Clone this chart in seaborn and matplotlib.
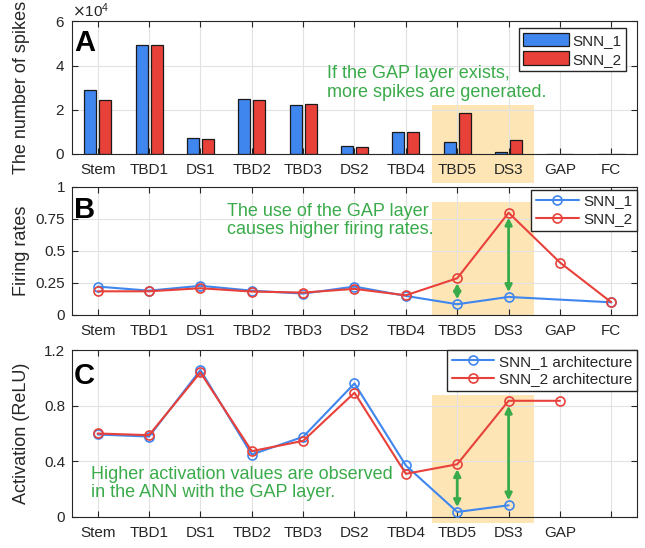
import numpy as np
import pandas as pd
import matplotlib
matplotlib.use("Agg")
import matplotlib.pyplot as plt
import seaborn as sns
from matplotlib.patches import Rectangle
from matplotlib.ticker import ScalarFormatter

# data
layers = ["Stem", "TBD1", "DS1", "TBD2", "TBD3", "DS2", "TBD4", "TBD5", "DS3", "GAP", "FC"]
spikes_snn1 = [29100, 49500, 7200, 24900, 22000, 3500, 9800, 5400, 900, 150, 200]
spikes_snn2 = [24600, 49200, 6800, 24400, 22800, 3300, 10000, 18700, 6300, 200, 200]

# firing rates (SNN_1 has no GAP layer)
fr_layers_1 = ["Stem", "TBD1", "DS1", "TBD2", "TBD3", "DS2", "TBD4", "TBD5", "DS3", "FC"]
fr_snn1 = [0.222, 0.19, 0.228, 0.19, 0.167, 0.222, 0.149, 0.084, 0.141, 0.099]
fr_layers_2 = layers
fr_snn2 = [0.185, 0.185, 0.209, 0.183, 0.175, 0.204, 0.154, 0.287, 0.799, 0.41, 0.099]

# activations
act_layers_1 = ["Stem", "TBD1", "DS1", "TBD2", "TBD3", "DS2", "TBD4", "TBD5", "DS3"]
act_snn1 = [0.593, 0.578, 1.056, 0.449, 0.576, 0.96, 0.37, 0.036, 0.084]
act_layers_2 = ["Stem", "TBD1", "DS1", "TBD2", "TBD3", "DS2", "TBD4", "TBD5", "DS3", "GAP"]
act_snn2 = [0.60, 0.588, 1.039, 0.473, 0.547, 0.893, 0.31, 0.379, 0.835, 0.835]

blue = "#3f86ef"
red = "#e8413a"
green = "#3aab4a"
shade = "#fde5b6"

sns.set_theme(style="ticks")
plt.rcParams["font.family"] = ["Liberation Sans", "DejaVu Sans"]
plt.rcParams["axes.edgecolor"] = "#262626"
plt.rcParams["axes.linewidth"] = 0.8

fig = plt.figure(figsize=(6.45, 5.48), dpi=100)
L, W = 0.1116, 0.876
axA = fig.add_axes([L, 0.719, W, 0.2418])
axB = fig.add_axes([L, 0.4252, W, 0.2336])
axC = fig.add_axes([L, 0.0566, W, 0.3047])

pos = {name: i for i, name in enumerate(layers)}


def style(ax):
    ax.set_xlim(-0.5, 10.5)
    ax.set_axisbelow(True)
    ax.grid(True, color="#e2e2e2", lw=0.8)
    ax.tick_params(direction="in", top=True, right=True, length=4,
                   labelsize=11, colors="#262626", width=0.8)
    ax.tick_params(axis="x", pad=6.5)
    ax.tick_params(axis="y", pad=5)
    ax.set_xlabel("")
    for s in ax.spines.values():
        s.set_visible(True)


def shade_box(ax, y0, y1):
    # below the axis artists so grid and tick labels stay visible
    r = Rectangle((6.5, y0), 2.0, y1 - y0, facecolor=shade, edgecolor="none",
                  zorder=0.3, clip_on=False, transform=ax.transData)
    ax.add_patch(r)


def arrow(ax, x, y0, y1):
    ax.annotate("", xy=(x, y1), xytext=(x, y0),
                arrowprops=dict(arrowstyle="<|-|>", color=green, lw=2,
                                shrinkA=3.5, shrinkB=3.5, mutation_scale=10),
                zorder=5)


# ---- A: number of spikes
dfA = pd.DataFrame({
    "layer": layers * 2,
    "spikes": spikes_snn1 + spikes_snn2,
    "model": ["SNN_1"] * len(layers) + ["SNN_2"] * len(layers),
})
sns.barplot(data=dfA, x="layer", y="spikes", hue="model", order=layers,
            palette=[blue, red], width=0.584, gap=0.2, edgecolor="#1a1a1a",
            linewidth=0.9, saturation=1, ax=axA, zorder=2)
style(axA)
axA.set_ylim(0, 60000)
axA.set_yticks([0, 20000, 40000, 60000])
fmt = ScalarFormatter(useMathText=True)
fmt.set_powerlimits((0, 0))
axA.yaxis.set_major_formatter(fmt)
axA.yaxis.get_offset_text().set_fontsize(11)
axA.set_ylabel("The number of spikes", fontsize=13)
shade_box(axA, -13100, 22000)
axA.legend(loc="upper right", bbox_to_anchor=(0.98, 0.951), borderaxespad=0,
           fontsize=11, frameon=True, fancybox=False, edgecolor="#262626",
           framealpha=1, handlelength=3.0, handleheight=1.0, labelspacing=0.25,
           borderpad=0.3, handletextpad=0.2)
axA.text(4.47, 32100, "If the GAP layer exists,\nmore spikes are generated.",
         color=green, fontsize=13, ha="left", va="center", linespacing=1.1)

# ---- B: firing rates
dfB1 = pd.DataFrame({"x": [pos[n] for n in fr_layers_1], "y": fr_snn1})
dfB2 = pd.DataFrame({"x": [pos[n] for n in fr_layers_2], "y": fr_snn2})
line_kw = dict(marker="o", markersize=6.5, markerfacecolor="none",
               markeredgewidth=1.2, linewidth=1.5, zorder=3)
sns.lineplot(data=dfB1, x="x", y="y", color=blue, markeredgecolor=blue,
             label="SNN_1", ax=axB, **line_kw)
sns.lineplot(data=dfB2, x="x", y="y", color=red, markeredgecolor=red,
             label="SNN_2", ax=axB, **line_kw)
style(axB)
axB.set_ylim(0, 1)
axB.set_yticks([0, 0.25, 0.5, 0.75, 1])
axB.set_yticklabels(["0", "0.25", "0.5", "0.75", "1"])
axB.set_ylabel("Firing rates", fontsize=13)
shade_box(axB, 0, 0.88)
arrow(axB, pos["TBD5"], fr_snn1[fr_layers_1.index("TBD5")], fr_snn2[pos["TBD5"]])
arrow(axB, pos["DS3"], fr_snn1[fr_layers_1.index("DS3")], fr_snn2[pos["DS3"]])
axB.legend(loc="upper right", bbox_to_anchor=(1.0, 0.977), borderaxespad=0,
           fontsize=11, frameon=True, fancybox=False, edgecolor="#262626",
           framealpha=1, handlelength=2.8, labelspacing=0.25, borderpad=0.3,
           handletextpad=0.3)
axB.text(2.52, 0.738, "The use of the GAP layer\ncauses higher firing rates.",
         color=green, fontsize=13, ha="left", va="center", linespacing=1.1)

# ---- C: activation
dfC1 = pd.DataFrame({"x": [pos[n] for n in act_layers_1], "y": act_snn1})
dfC2 = pd.DataFrame({"x": [pos[n] for n in act_layers_2], "y": act_snn2})
sns.lineplot(data=dfC1, x="x", y="y", color=blue, markeredgecolor=blue,
             label="SNN_1 architecture", ax=axC, **line_kw)
sns.lineplot(data=dfC2, x="x", y="y", color=red, markeredgecolor=red,
             label="SNN_2 architecture", ax=axC, **line_kw)
style(axC)
axC.set_ylim(0, 1.2)
axC.set_yticks([0, 0.4, 0.8, 1.2])
axC.set_yticklabels(["0", "0.4", "0.8", "1.2"])
axC.set_ylabel("Activation (ReLU)", fontsize=13)
shade_box(axC, -0.04, 0.88)
arrow(axC, pos["TBD5"], act_snn1[act_layers_1.index("TBD5")], act_snn2[pos["TBD5"]])
arrow(axC, pos["DS3"], act_snn1[act_layers_1.index("DS3")], act_snn2[pos["DS3"]])
axC.legend(loc="upper right", bbox_to_anchor=(1.0, 1.0), borderaxespad=0,
           fontsize=11, frameon=True, fancybox=False, edgecolor="#262626",
           framealpha=1, handlelength=2.8, labelspacing=0.25, borderpad=0.3,
           handletextpad=0.3)
axC.text(-0.13, 0.241, "Higher activation values are observed\nin the ANN with the GAP layer.",
         color=green, fontsize=13, ha="left", va="center", linespacing=1.1)

for ax in (axA, axB):
    ax.set_xticks(range(len(layers)))
    ax.set_xticklabels(layers)
axC.set_xticks(range(len(layers)))
axC.set_xticklabels(layers[:-1] + [""])

for ax in (axA, axB, axC):
    ax.yaxis.set_label_coords(-0.074, 0.5)

for ax, lab, yy in ((axA, "A", 0.94), (axB, "B", 0.93), (axC, "C", 0.93)):
    ax.text(0.004, yy, lab, transform=ax.transAxes, fontsize=21,
            fontweight="bold", ha="left", va="top", color="black", zorder=6)

fig.savefig("out.png", dpi=100)
